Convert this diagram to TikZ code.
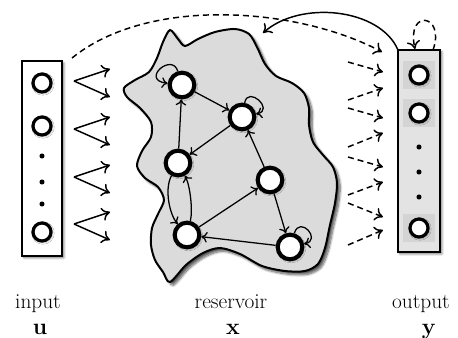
\documentclass[tikz,border=0pt]{standalone}
\usetikzlibrary{arrows.meta,shadows.blur}
\begin{document}
\begin{tikzpicture}[x=0.75pt,y=-0.75pt,
  softshadow/.style={blur shadow={shadow xshift=1.4pt,shadow yshift=-1.4pt,shadow blur steps=6,shadow opacity=55}},
  layerbox/.style={draw=black,line width=1.1pt,minimum width=30pt,inner sep=0pt,softshadow},
  unit/.style={circle,draw=black,fill=white,line width=2.4pt,minimum size=13.5pt,inner sep=0pt,
    blur shadow={shadow xshift=0.7pt,shadow yshift=-0.7pt,shadow blur steps=5,shadow opacity=55}},
  rnode/.style={circle,draw=black,fill=white,line width=3.1pt,minimum size=18.5pt,inner sep=0pt,
    blur shadow={shadow xshift=0.9pt,shadow yshift=-0.9pt,shadow blur steps=5,shadow opacity=55}},
  dotnode/.style={circle,fill=black,minimum size=3.8pt,inner sep=0pt},
  link/.style={line width=0.95pt,-{To[length=4.5pt,width=8pt]}},
  feed/.style={line width=1.1pt,-{To[length=6pt,width=10pt]}},
  readout/.style={line width=1.1pt,dash pattern=on 4.5pt off 3pt,-{To[length=6pt,width=10pt]}},
  label/.style={font=\fontsize{16}{19}\selectfont,anchor=base,inner sep=0pt}
]
\useasboundingbox (0,0) rectangle (458,337);

% ---------- reservoir body ----------
\draw[line width=1.5pt,fill=black!14,
  blur shadow={shadow xshift=2.4pt,shadow yshift=-2.4pt,shadow blur steps=8,shadow opacity=65}]
  plot[smooth cycle,tension=0.5] coordinates {
  (170,30) (178,39) (185,46) (198,39) (215,32) (235,29) (249,34) (257,47)
  (265,64) (276,76) (292,83) (304,93) (309,108) (309,125) (313,142) (323,155)
  (333,167) (337,183) (335,203) (330,225) (325,248) (318,264) (305,271) (285,271)
  (262,266) (240,254) (220,248) (203,253) (186,265) (170,282) (163,272) (155,260)
  (151,245) (152,228) (158,214) (164,200) (158,187) (145,178) (137,166) (142,151)
  (151,137) (151,122) (140,108) (127,97) (124,88) (135,80) (149,72) (157,58) (163,42)};

% ---------- input layer ----------
\node[layerbox,fill=white,minimum height=146pt] (inbox) at (42,158.5) {};
\node[unit] (u1) at (42,83) {};
\node[unit] (u2) at (42,126) {};
\node[dotnode] (ud1) at (42,156) {};
\node[dotnode] (ud2) at (42,182) {};
\node[dotnode] (ud3) at (42,204) {};
\node[unit] (u3) at (42,232) {};

% ---------- output layer ----------
\node[layerbox,fill=black!11,minimum width=31.5pt,minimum height=151.5pt] (outbox) at (419,151) {};
\fill[black!17] (403,61) rectangle (435,89);
\fill[black!17] (403,99) rectangle (435,127);
\fill[black!17] (403,214) rectangle (435,242);
\node[unit] (y1) at (419,75) {};
\node[unit] (y2) at (419,113) {};
\node[dotnode] (yd1) at (419,147) {};
\node[dotnode] (yd2) at (419,172) {};
\node[dotnode] (yd3) at (419,197) {};
\node[unit] (y3) at (419,228) {};

% ---------- reservoir units ----------
\node[rnode] (n1) at (182,85) {};
\node[rnode] (n2) at (242,117) {};
\node[rnode] (n3) at (178,163) {};
\node[rnode] (n4) at (270,180) {};
\node[rnode] (n5) at (187,235) {};
\node[rnode] (n6) at (290,247) {};

% recurrent connections
\draw[link] (n1) -- (n2);
\draw[link] (n3) -- (n1);
\draw[link] (n2) -- (n3);
\draw[link] (n4) -- (n2);
\draw[link] (n4) -- (n6);
\draw[link] (n5) -- (n4);
\draw[link] (n6) -- (n5);
\draw[link] (n3) .. controls (164,190) and (170,215) .. (n5);
\draw[link] (n5) .. controls (193,210) and (190,185) .. (n3);
\draw[link] (n1) .. controls (172,52) and (140,80) .. (n1);
\draw[link] (n2) .. controls (248,85) and (275,110) .. (n2);
\draw[link] (n6) .. controls (300,215) and (322,240) .. (n6);

% ---------- input weights ----------
\foreach \k/\yy in {1/81,2/129,3/177,4/224}{
  \coordinate (ia\k) at (74,\yy);
  \coordinate (ib\k) at (110,\yy-12);
  \coordinate (ic\k) at (110,\yy+16);
  \draw[feed] (ia\k) -- (ib\k);
  \draw[feed] (ia\k) -- (ic\k);
}

% ---------- readout weights ----------
\foreach \k/\ya/\yb in {1/62/72,2/100/88,3/108/118,4/147/133,5/157/167,6/195/182,7/203/217,8/245/230}{
  \coordinate (ra\k) at (348,\ya);
  \coordinate (rb\k) at (383,\yb);
  \draw[readout] (ra\k) -- (rb\k);
}

% direct input-to-output connection
\coordinate (dstart) at (72,58);
\coordinate (dend) at (382,52);
\draw[readout] (dstart) .. controls (150,-5) and (300,8) .. (dend);

% output feedback into the reservoir
\coordinate (fbstart) at (398,50);
\coordinate (fbend) at (263,33);
\draw[feed] (fbstart) .. controls (380,8) and (300,0) .. (fbend);

% output self-connection
\coordinate (sa) at (433,50);
\coordinate (sb) at (415,49);
\draw[readout] (sa) .. controls (446,14) and (406,8) .. (sb);

% ---------- labels ----------
\node[label] (tin) at (38,308) {input};
\node[label] (tres) at (231,308) {reservoir};
\node[label] (tout) at (421,308) {output};
\node[label] (tu) at (40,334) {$\mathbf{u}$};
\node[label] (tx) at (233,334) {$\mathbf{x}$};
\node[label] (ty) at (429,334) {$\mathbf{y}$};
\end{tikzpicture}
\end{document}
